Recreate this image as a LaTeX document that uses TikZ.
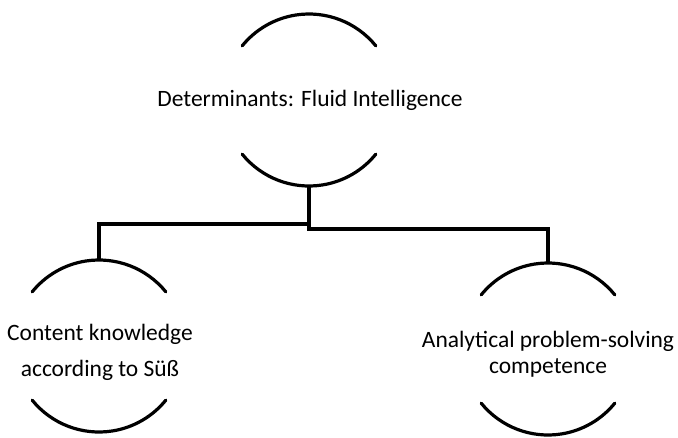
\documentclass[tikz,border=0pt]{standalone}
\usepackage{fontspec}
\setmainfont{Carlito}

\tikzset{
  arcline/.style={line width=2.4pt, line cap=round},
  link/.style={line width=2.4pt},
  bubbletext/.style={align=center, inner sep=0pt, font=\fontsize{17.6}{27}\selectfont},
}
\newcommand{\moonpair}[1]{%
  \draw[arcline] (#1) ++(39:86) arc[start angle=39, end angle=141, radius=86];
  \draw[arcline] (#1) ++(219:86) arc[start angle=219, end angle=321, radius=86];
}

\begin{document}
\begin{tikzpicture}[x=0.75pt, y=0.75pt]
  \useasboundingbox (0,0) rectangle (678,-437);

  \coordinate (fi) at (309,-100);
  \coordinate (ck) at (99,-346);
  \coordinate (ap) at (548,-349);
  \moonpair{fi}
  \moonpair{ck}
  \moonpair{ap}

  \node[bubbletext] (fitext) at (310,-100) {Determinants: Fluid Intelligence};
  \node[bubbletext] (cktext) at (100,-352) {Content knowledge\\according to Süß};
  \node[bubbletext, font=\fontsize{17.6}{19.5}\selectfont] (aptext) at (548,-354)
    {Analytical problem-solving\\competence};

  \coordinate (fi-b) at (309,-186);
  \coordinate (ck-t) at (99,-260);
  \coordinate (ap-t) at (548,-263);
  \draw[link] (fi-b) -- ++(0,-38) -| (ck-t);
  \draw[link] (fi-b) -- ++(0,-43) -| (ap-t);
\end{tikzpicture}
\end{document}
